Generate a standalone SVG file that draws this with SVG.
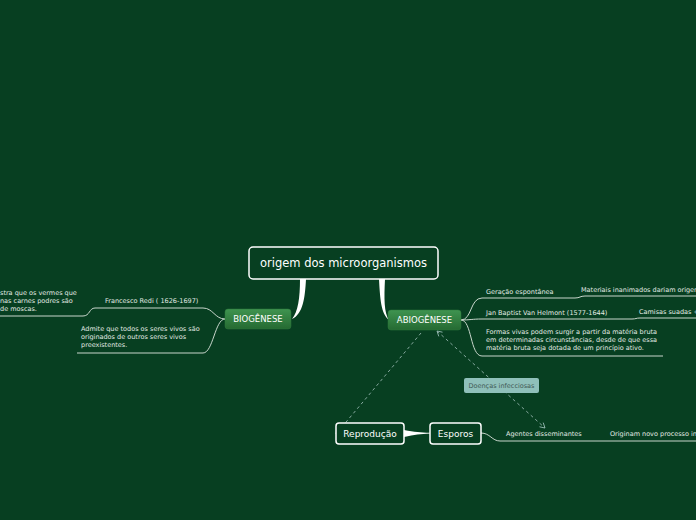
<svg xmlns="http://www.w3.org/2000/svg" width="696" height="520" viewBox="0 0 696 520">
<defs>
<linearGradient id="g" x1="0" y1="0" x2="0" y2="1">
<stop offset="0" stop-color="#3f9450"/>
<stop offset="1" stop-color="#256a32"/>
</linearGradient>
<marker id="arr" viewBox="0 0 10 10" refX="8" refY="5" markerWidth="7" markerHeight="7" orient="auto-start-reverse" markerUnits="userSpaceOnUse">
<path d="M1,1 L8,5 L1,9" fill="none" stroke="#8fb3aa" stroke-width="1.3"/>
</marker>
<style>
.bg{fill:#073f21}
.hand{font-family:"DejaVu Sans","Liberation Sans",sans-serif;fill:#ffffff}
.t{font-family:"DejaVu Sans","Liberation Sans",sans-serif;font-size:6.5px;fill:#e2ebe4}
.line{fill:none;stroke:#c9d6cc;stroke-width:1}
.taper{fill:#ffffff}
.dash{fill:none;stroke:#86a99f;stroke-width:1;stroke-dasharray:3,3}
.box{fill:#073f21;stroke:#ffffff;stroke-width:1.5}
.green{fill:url(#g);stroke:#2f7a3d;stroke-width:0.5}
</style>
</defs>
<rect class="bg" x="0" y="0" width="696" height="520"/>
<g id="connectors">
<path class="taper" d="M300,279 L306,279 C305,298 303,314 292,319 C298,312 300,298 300,279 Z"/>
<path class="taper" d="M379,279 L385,279 C384,298 384,313 389,320 C381,314 380,298 379,279 Z"/>
<path class="taper" d="M404,430 L404,437 C415,435 420,434 430,433.6 L430,432.8 C420,432.5 415,432 404,430 Z"/>
<path class="line" d="M225,319 C215,319 213,308 203,308 L95,308 C89,308 90,316 83,316 L0,316"/>
<path class="line" d="M225,319 C215,319 213,353 203,353 L77,353"/>
<path class="line" d="M461,320 C472,320 470,298 482,298 L575,298 C580,298 580,296 585,296 L696,296"/>
<path class="line" d="M461,320 C470,320 472,319 482,319 L632,319 C636,319 636,318 640,318 L696,318"/>
<path class="line" d="M461,320 C472,320 470,356 482,356 L663,356"/>
<path class="line" d="M481,433 C490,433 492,441 500,441 L696,441"/>
<path class="dash" d="M421,333 L336,434" marker-end="url(#arr)"/>
<path class="dash" d="M437,331 L545,428" marker-start="url(#arr)" marker-end="url(#arr)"/>
</g>
<g id="central">
<rect class="box" x="249" y="247" width="189" height="32" rx="4"/>
<text class="hand" x="343.5" y="267" font-size="11.5" text-anchor="middle">origem dos microorganismos</text>
</g>
<g id="biogenese">
<rect class="green" x="225" y="309" width="66" height="20" rx="3"/>
<text class="hand" x="258" y="322" font-size="8.5" text-anchor="middle">BIOGÊNESE</text>
</g>
<g id="abiogenese">
<rect class="green" x="388" y="310" width="73" height="20" rx="3"/>
<text class="hand" x="424.5" y="323" font-size="8.5" text-anchor="middle">ABIOGÊNESE</text>
</g>
<g id="redi">
<text class="t" x="105" y="303">Francesco Redi ( 1626-1697)</text>
</g>
<g id="redi-demo">
<text class="t" x="0" y="295">stra que os vermes que</text>
<text class="t" x="0" y="303">nas carnes podres são</text>
<text class="t" x="0" y="311">de moscas.</text>
</g>
<g id="admite">
<text class="t" x="81" y="331">Admite que todos os seres vivos são</text>
<text class="t" x="81" y="339">originados de outros seres vivos</text>
<text class="t" x="81" y="347">preexistentes.</text>
</g>
<g id="geracao">
<text class="t" x="486" y="294">Geração espontânea</text>
</g>
<g id="materiais">
<text class="t" x="581" y="292">Materiais inanimados dariam origem</text>
</g>
<g id="helmont">
<text class="t" x="486" y="315">Jan Baptist Van Helmont (1577-1644)</text>
</g>
<g id="camisas">
<text class="t" x="639" y="314">Camisas suadas +</text>
</g>
<g id="formas">
<text class="t" x="486" y="334">Formas vivas podem surgir a partir da matéria bruta</text>
<text class="t" x="486" y="342">em determinadas circunstâncias, desde de que essa</text>
<text class="t" x="486" y="350">matéria bruta seja dotada de um princípio ativo.</text>
</g>
<g id="doencas">
<rect x="464" y="378" width="75" height="15" rx="2" fill="#8fc0ba"/>
<text x="501.5" y="388" font-family="DejaVu Sans, sans-serif" font-size="6.5" fill="#3f5a55" text-anchor="middle">Doenças infecciosas</text>
</g>
<g id="reproducao">
<rect class="box" x="336" y="423" width="68" height="21" rx="3"/>
<text class="hand" x="370" y="437" font-size="9" text-anchor="middle">Reprodução</text>
</g>
<g id="esporos">
<rect class="box" x="430" y="423" width="51" height="21" rx="3"/>
<text class="hand" x="455.5" y="437" font-size="9" text-anchor="middle">Esporos</text>
</g>
<g id="agentes">
<text class="t" x="506" y="436">Agentes disseminantes</text>
</g>
<g id="originam">
<text class="t" x="610" y="436">Originam novo processo in</text>
</g>
</svg>
